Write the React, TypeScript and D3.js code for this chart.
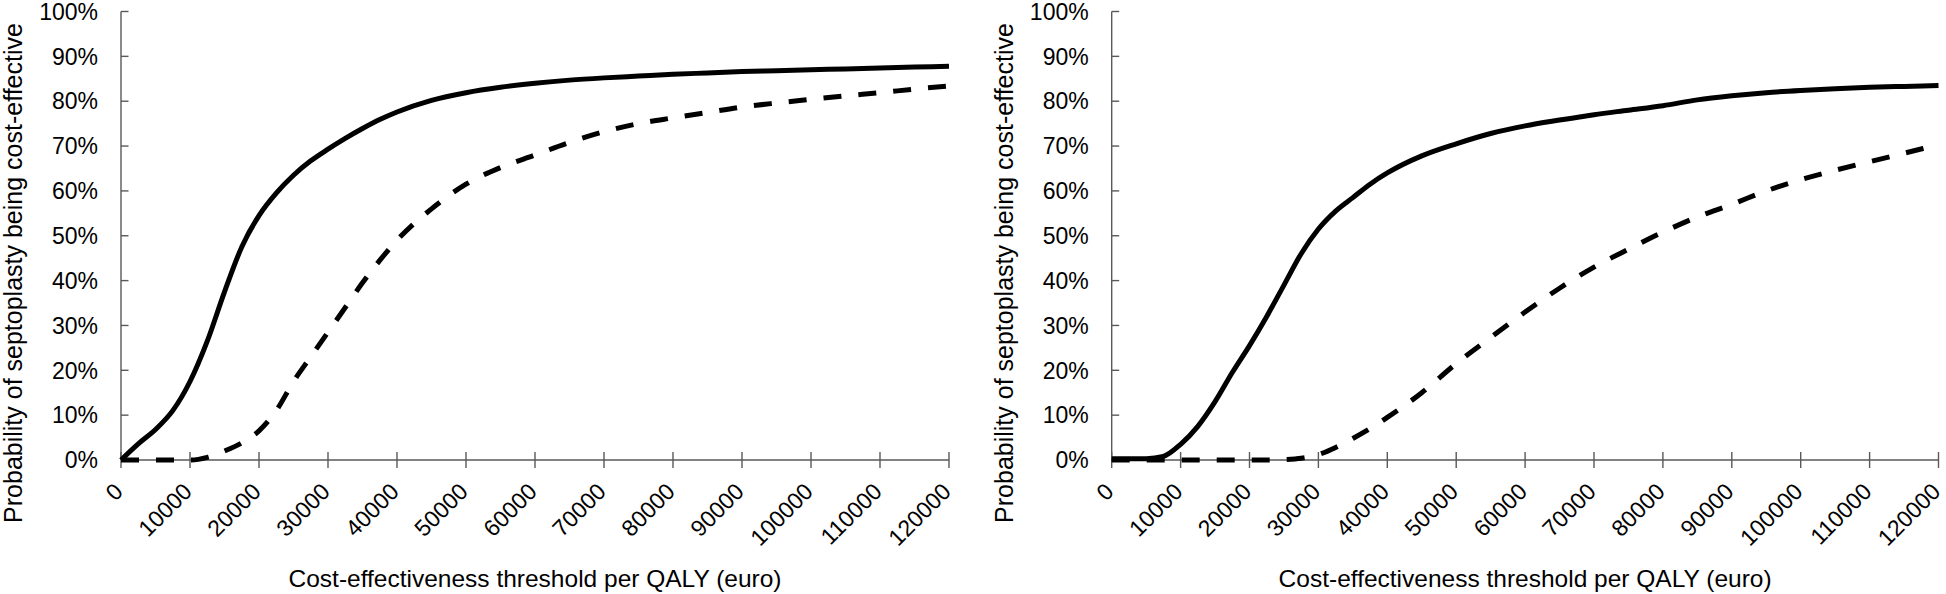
import React from 'react';
import * as d3 from 'd3';

const thresholds = [
  0, 2500, 5000, 7500, 10000, 12500, 15000, 17500, 20000, 22500, 25000, 27500,
  30000, 32500, 35000, 37500, 40000, 45000, 50000, 55000, 60000, 65000, 70000,
  75000, 80000, 85000, 90000, 95000, 100000, 105000, 110000, 115000, 120000,
];

// probability (%) of septoplasty being cost-effective
const leftSolid = [
  0, 3.6, 6.8, 11, 17.5, 26.5, 37.5, 47.5, 54.5, 59.5, 63.5, 66.7, 69.3, 71.7,
  73.9, 75.9, 77.6, 80.2, 81.9, 83.1, 84, 84.7, 85.2, 85.6, 86, 86.3, 86.6,
  86.8, 87, 87.2, 87.4, 87.6, 87.8,
];
const leftDashed = [
  0, 0, 0, 0, 0, 0.6, 2, 3.8, 6.5, 11, 17.5, 23, 28.5, 34, 39.5, 44.5, 49, 56,
  61.5, 65.2, 68, 70.8, 73.2, 75, 76.3, 77.5, 78.7, 79.6, 80.4, 81.2, 81.9,
  82.7, 83.4,
];
const rightSolid = [
  0.3, 0.3, 0.3, 0.8, 3.5, 7.5, 13, 19.5, 25.5, 32, 39, 46, 51.5, 55.5, 58.5,
  61.5, 64, 67.8, 70.5, 72.8, 74.5, 75.8, 77, 78, 79, 80.3, 81.2, 81.9, 82.4,
  82.8, 83.1, 83.3, 83.5,
];
const rightDashed = [
  0, 0, 0, 0, 0, 0, 0, 0, 0, 0, 0.1, 0.4, 1.2, 2.8, 4.8, 7, 9.5, 15, 21.5,
  27.3, 33, 38.3, 43, 47, 50.8, 54.2, 57, 60, 62.5, 64.6, 66.5, 68.4, 70.3,
];

const xTicks = [0, 10000, 20000, 30000, 40000, 50000, 60000, 70000, 80000, 90000, 100000, 110000, 120000];
const yTicks = [0, 10, 20, 30, 40, 50, 60, 70, 80, 90, 100];

const xTitle = 'Cost-effectiveness threshold per QALY (euro)';
const yTitle = 'Probability of septoplasty being cost-effective';

const FONT = '"Liberation Sans", Arial, sans-serif';
const AXIS = '#595959';
const TOP = 11.5;
const BOTTOM = 460;

function Panel({ left, right, solid, dashed }) {
  const x = d3.scaleLinear().domain([0, 120000]).range([left, right]);
  const y = d3.scaleLinear().domain([0, 100]).range([BOTTOM, TOP]);

  const line = d3.line()
    .x(d => x(d[0]))
    .y(d => y(d[1]))
    .curve(d3.curveMonotoneX);

  const solidPts = thresholds.map((t, i) => [t, solid[i]]);
  const dashedPts = thresholds.map((t, i) => [t, dashed[i]]);

  return (
    <g>
      {/* y axis */}
      <line x1={left} x2={left} y1={TOP} y2={BOTTOM} stroke={AXIS} strokeWidth={1.4} />
      {yTicks.map(t => (
        <g key={'y' + t}>
          <line x1={left} x2={left + 7.5} y1={y(t)} y2={y(t)} stroke={AXIS} strokeWidth={1.4} />
          <text x={left - 23} y={y(t)} dy="0.36em" textAnchor="end"
            fontFamily={FONT} fontSize={23} fill="#000">{t + '%'}</text>
        </g>
      ))}
      <text transform={`translate(${left - 99},273) rotate(-90)`} textAnchor="middle"
        fontFamily={FONT} fontSize={25} fill="#000">{yTitle}</text>

      {/* x axis */}
      <line x1={left} x2={right} y1={BOTTOM} y2={BOTTOM} stroke={AXIS} strokeWidth={1.4} />
      {xTicks.map(t => (
        <g key={'x' + t}>
          <line x1={x(t)} x2={x(t)} y1={BOTTOM - 8} y2={BOTTOM + 8} stroke={AXIS} strokeWidth={1.4} />
          <text transform={`translate(${x(t) - 2.5},${BOTTOM + 27}) rotate(-45)`} dy="0.36em"
            textAnchor="end" fontFamily={FONT} fontSize={23} fill="#000">{t}</text>
        </g>
      ))}
      <text x={(left + right) / 2} y={587} textAnchor="middle"
        fontFamily={FONT} fontSize={24.5} fill="#000">{xTitle}</text>

      {/* curves */}
      <path d={line(dashedPts)} fill="none" stroke="#000" strokeWidth={5}
        strokeDasharray="18 17" />
      <path d={line(solidPts)} fill="none" stroke="#000" strokeWidth={5}
        strokeLinejoin="round" />
    </g>
  );
}

export default function App() {
  return (
    <svg width={1946} height={594} style={{ position: 'absolute', left: 0, top: 0, background: '#fff' }}>
      <rect width={1946} height={594} fill="#fff" />
      <Panel left={121} right={949} solid={leftSolid} dashed={leftDashed} />
      <Panel left={1111.7} right={1938.5} solid={rightSolid} dashed={rightDashed} />
    </svg>
  );
}
